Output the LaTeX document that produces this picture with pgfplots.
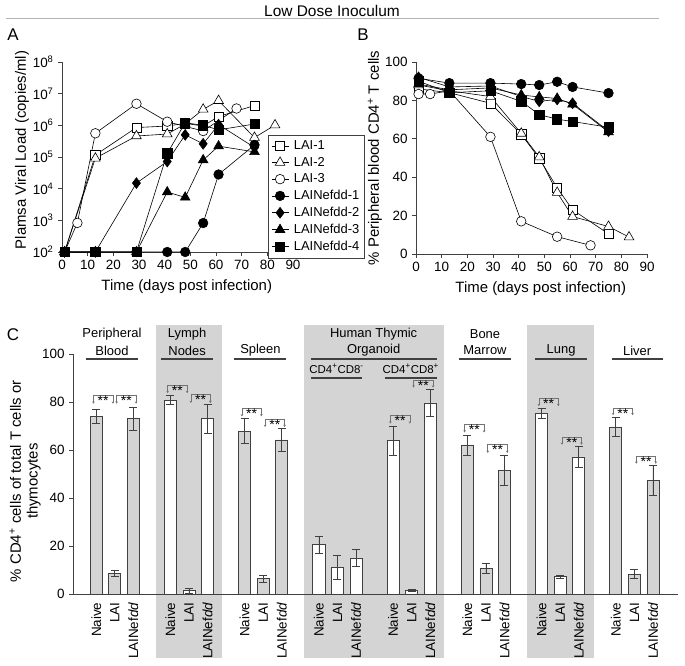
\documentclass[border=0pt]{standalone}
\usepackage{pgfplots}
\pgfplotsset{compat=1.18}
\usepackage{pgfplotstable}
\usepackage{fontspec}
\setmainfont{Liberation Sans}
\usetikzlibrary{arrows.meta}

\definecolor{bggray}{gray}{0.83}
\definecolor{edge}{gray}{0.25}
\definecolor{brk}{gray}{0.45}
\definecolor{rulegray}{gray}{0.7}

% panel C, bar position / mean / error
\pgfplotstableread{
x  y    e
0  74.0 2.8
1  8.5  1.2
2  73.0 4.9
8  67.8 5.2
9  6.3  1.6
10 64.2 4.7
20 62.0 4.2
21 10.6 2.1
22 51.5 6.1
28 69.6 4.0
29 8.3  1.9
30 47.4 6.2
}\graybars
\pgfplotstableread{
x  y    e
4  80.7 1.9
5  1.4  1.0
6  73.0 5.9
12 20.5 3.7
13 11.2 5.0
14 15.0 3.7
16 63.8 6.2
17 1.4  0.5
18 79.6 5.6
24 75.3 2.0
25 7.2  0.7
26 57.1 4.3
}\whitebars

\pgfplotsset{
  panel/.style={
    scale only axis, anchor=south west,
    axis lines=left, axis line style={-, edge, line width=0.8bp},
    tick align=outside, major tick length=4bp,
    tick style={edge, line width=0.8bp},
    /pgf/number format/assume math mode=true,
    tick label style={font=\fontsize{13.5}{15}\selectfont},
    label style={font=\fontsize{15}{17}\selectfont},
  },
  time/.style={
    width=231bp, xmin=0, xmax=90, xtick={0,10,...,90},
    xlabel={Time (days post infection)},
  },
  every axis plot/.append style={black, line width=0.6bp},
  lai1/.style={mark=square*, mark size=4.6bp, mark options={solid, fill=white, line width=0.6bp}},
  lai2/.style={mark=triangle*, mark size=5.6bp, mark options={solid, fill=white, line width=0.6bp}},
  lai3/.style={mark=*, mark size=4.8bp, mark options={solid, fill=white, line width=0.6bp}},
  nef1/.style={mark=*, mark size=4.8bp, mark options={solid, fill=black}},
  nef2/.style={mark=diamond*, mark size=5.4bp, mark options={solid, fill=black}},
  nef3/.style={mark=triangle*, mark size=5.6bp, mark options={solid, fill=black}},
  nef4/.style={mark=square*, mark size=4.6bp, mark options={solid, fill=black}},
}

% significance bracket: x1, x2, y of bar, y of tips
\newcommand{\sig}[4]{%
  \draw[brk, line width=0.6bp, {Stealth[length=2.2bp,width=2.6bp]}-{Stealth[length=2.2bp,width=2.6bp]}]
    (axis cs:#1,#4) -- (axis cs:#1,#3)
    -- node[below=0.2bp, text=black, inner sep=0pt, font=\fontsize{14}{15}\selectfont]{**} (axis cs:#2,#3)
    -- (axis cs:#2,#4);}

\begin{document}
\fontsize{13}{15}\selectfont
\begin{tikzpicture}[x=1bp, y=1bp]

\node at (332,655) {\fontsize{15.5}{17}\selectfont Low Dose Inoculum};
\draw[rulegray, line width=1bp] (6,647) -- (659,647);
\node at (13,631) {\fontsize{17}{19}\selectfont A};
\node at (363,631) {\fontsize{17}{19}\selectfont B};
\node at (13,331) {\fontsize{17}{19}\selectfont C};

% ---- A: viral load
\begin{axis}[panel, time, at={(62bp,414bp)}, height=190bp,
  ymode=log, ymin=100, ymax=1e8,
  ytick={1e2,1e3,1e4,1e5,1e6,1e7,1e8},
  yticklabels={10\textsuperscript{2},10\textsuperscript{3},10\textsuperscript{4},10\textsuperscript{5},10\textsuperscript{6},10\textsuperscript{7},10\textsuperscript{8}},
  minor y tick style={draw=none},
  ylabel={Plamsa Viral Load (copies/ml)},
  ylabel style={at={(axis description cs:-0.173,0.537)}, anchor=center},
  xlabel style={at={(axis description cs:0.54,-0.18)}, anchor=center},
  clip=false,
  legend style={at={(0.892,0.616)}, anchor=north west, draw=edge, fill=white,
    font=\fontsize{13}{15}\selectfont, row sep=1.6bp, inner xsep=3bp, inner ysep=3.5bp,
    /tikz/every odd column/.append style={column sep=3bp}},
  legend cell align=left,
]
\addplot[lai1] coordinates {(1,100) (13,1.15e5) (29,8.5e5) (41,9.5e5) (48,1.15e6) (55,9.5e5) (61,1.9e6) (75,4.2e6)};
\addplot[lai2] coordinates {(1,100) (13,9.1e4) (29,4.6e5) (41,5.3e5) (48,1.1e6) (55,3.2e6) (61,6e6) (75,4.1e5) (83,1.02e6)};
\addplot[lai3] coordinates {(1,100) (6,830) (13,5.6e5) (29,4.8e6) (41,1.3e6) (55,6.6e5) (68,3.4e6)};
\addplot[nef1] coordinates {(1,100) (13,100) (29,100) (41,100) (48,100) (55,820) (61,2.8e4) (75,2.4e5)};
\addplot[nef2] coordinates {(1,100) (13,100) (29,1.5e4) (41,7.2e4) (48,5e5) (55,2.6e5) (61,1.05e6) (75,2e5)};
\addplot[nef3] coordinates {(1,100) (13,100) (29,100) (41,7.8e3) (48,5.3e3) (55,8e4) (61,2.2e5) (75,1.45e5)};
\addplot[nef4] coordinates {(1,100) (13,100) (29,100) (41,1.3e5) (48,1.2e6) (55,1e6) (61,7.2e5) (75,1.1e6)};
\legend{LAI-1,LAI-2,LAI-3,LAINefdd-1,LAINefdd-2,LAINefdd-3,LAINefdd-4}
\end{axis}

% ---- B: CD4 T cells in blood
\begin{axis}[panel, time, at={(416bp,412bp)}, height=192bp,
  ymin=0, ymax=100, ytick={0,20,...,100},
  ylabel={\% Peripheral blood CD4\textsuperscript{+} T cells},
  ylabel style={at={(axis description cs:-0.178,0.5)}, anchor=center},
  xlabel style={at={(axis description cs:0.54,-0.178)}, anchor=center},
  clip=false,
]
\addplot[lai1] coordinates {(1,86) (13,84) (29,78.5) (41,62.3) (48,49.8) (55,34.5) (61,23) (75,10.5)};
\addplot[lai2] coordinates {(1,88) (13,85) (29,82) (41,62.8) (48,50.5) (55,32) (61,19.5) (75,14.3) (83,8.8)};
\addplot[lai3] coordinates {(1,83.3) (5.5,83.3) (13,85) (29,61) (41,17) (55,9) (68,4.5)};
\addplot[nef1] coordinates {(1,91.5) (13,89) (29,89) (41,88.5) (48,88) (55,89.7) (61,87) (75,83.8)};
\addplot[nef2] coordinates {(1,92) (13,87) (29,87.5) (41,82) (48,79.5) (55,80.5) (61,78.5) (75,64)};
\addplot[nef3] coordinates {(1,88.5) (13,85.5) (29,86.5) (41,82.8) (48,81.8) (55,81) (61,78) (75,63.5)};
\addplot[nef4] coordinates {(1,90) (13,84) (29,85) (41,79.5) (48,72.6) (55,70.2) (61,69) (75,66)};
\end{axis}

% ---- C: tissues
\begin{axis}[panel, at={(73bp,72bp)}, width=605bp, height=240bp,
  xmin=-1.25, xmax=31.35, ymin=0, ymax=100, clip=false, set layers,
  ytick={0,20,...,100},
  xtick={0,1,2,4,5,6,8,9,10,12,13,14,16,17,18,20,21,22,24,25,26,28,29,30},
  xticklabels={Naive,LAI,LAINef\textit{dd},Naive,LAI,LAINef\textit{dd},Naive,LAI,LAINef\textit{dd},Naive,LAI,LAINef\textit{dd},Naive,LAI,LAINef\textit{dd},Naive,LAI,LAINef\textit{dd},Naive,LAI,LAINef\textit{dd},Naive,LAI,LAINef\textit{dd}},
  x tick label style={rotate=90, anchor=east},
  xtick style={draw=none},
  ylabel={\% CD4\textsuperscript{+} cells of total T cells or\\thymocytes},
  ylabel style={align=center, at={(axis description cs:-0.079,0.47)}, anchor=center},
]
\begin{pgfonlayer}{axis background}
\fill[bggray] (axis cs:3.2,-26.7) rectangle (axis cs:6.8,112.1);
\fill[bggray] (axis cs:11.2,-26.7) rectangle (axis cs:18.75,112.1);
\fill[bggray] (axis cs:23.2,-26.7) rectangle (axis cs:26.8,112.1);
\end{pgfonlayer}

\addplot[ybar, bar width=0.65, bar shift=0pt, fill=bggray, draw=edge, line width=0.8bp,
  error bars/.cd, y dir=both, y explicit,
  error bar style={edge, line width=0.8bp},
  error mark options={rotate=90, mark size=4bp, edge, line width=0.8bp}]
  table[x=x, y=y, y error=e] {\graybars};
\addplot[ybar, bar width=0.65, bar shift=0pt, fill=white, draw=edge, line width=0.8bp,
  error bars/.cd, y dir=both, y explicit,
  error bar style={edge, line width=0.8bp},
  error mark options={rotate=90, mark size=4bp, edge, line width=0.8bp}]
  table[x=x, y=y, y error=e] {\whitebars};

% group headings
\node at (axis cs:0.85,108.2) {Peripheral};
\node at (axis cs:0.85,101.5) {Blood};
\node at (axis cs:4.9,108.2) {Lymph};
\node at (axis cs:4.9,101.5) {Nodes};
\node at (axis cs:8.85,101.5) {Spleen};
\node at (axis cs:14.95,108.2) {Human Thymic};
\node at (axis cs:14.95,101.5) {Organoid};
\node at (axis cs:20.95,108.2) {Bone};
\node at (axis cs:20.95,101.5) {Marrow};
\node at (axis cs:25.05,101.5) {Lung};
\node at (axis cs:29.15,101.5) {Liver};
\node[font=\fontsize{11.5}{12}\selectfont] at (axis cs:12.95,93.8) {CD4\textsuperscript{+}CD8\textsuperscript{-}};
\node[font=\fontsize{11.5}{12}\selectfont] at (axis cs:16.95,93.8) {CD4\textsuperscript{+}CD8\textsuperscript{+}};
\begin{scope}[edge, line width=1.6bp]
\draw (axis cs:-0.55,97.8) -- (axis cs:2.25,97.8);
\draw (axis cs:3.5,97.8) -- (axis cs:6.3,97.8);
\draw (axis cs:7.45,97.8) -- (axis cs:10.25,97.8);
\draw (axis cs:11.58,97.8) -- (axis cs:18.36,97.8);
\draw (axis cs:11.58,90.1) -- (axis cs:14.33,90.1);
\draw (axis cs:15.56,90.1) -- (axis cs:18.36,90.1);
\draw (axis cs:19.55,97.8) -- (axis cs:22.35,97.8);
\draw (axis cs:23.64,97.8) -- (axis cs:26.44,97.8);
\draw (axis cs:27.79,97.8) -- (axis cs:30.53,97.8);
\end{scope}

% significance
\sig{-0.15}{0.9}{82.8}{79.3}
\sig{1.1}{2.15}{82.8}{79.3}
\sig{3.85}{4.9}{87}{83.7}
\sig{5.1}{6.15}{83.3}{79.6}
\sig{7.85}{8.9}{77.5}{74}
\sig{9.1}{10.15}{72.9}{69.6}
\sig{15.85}{16.9}{74.3}{71}
\sig{17.1}{18.15}{89}{86}
\sig{19.85}{20.9}{70.5}{67.3}
\sig{21.1}{22.15}{62.2}{58.8}
\sig{23.85}{24.9}{81.7}{78.3}
\sig{25.1}{26.15}{65.3}{62.2}
\sig{27.85}{28.9}{77.5}{74.5}
\sig{29.1}{30.15}{57.4}{54.3}
\end{axis}

\pgfresetboundingbox
\path[use as bounding box] (0,0) rectangle (685,666);
\end{tikzpicture}
\end{document}
